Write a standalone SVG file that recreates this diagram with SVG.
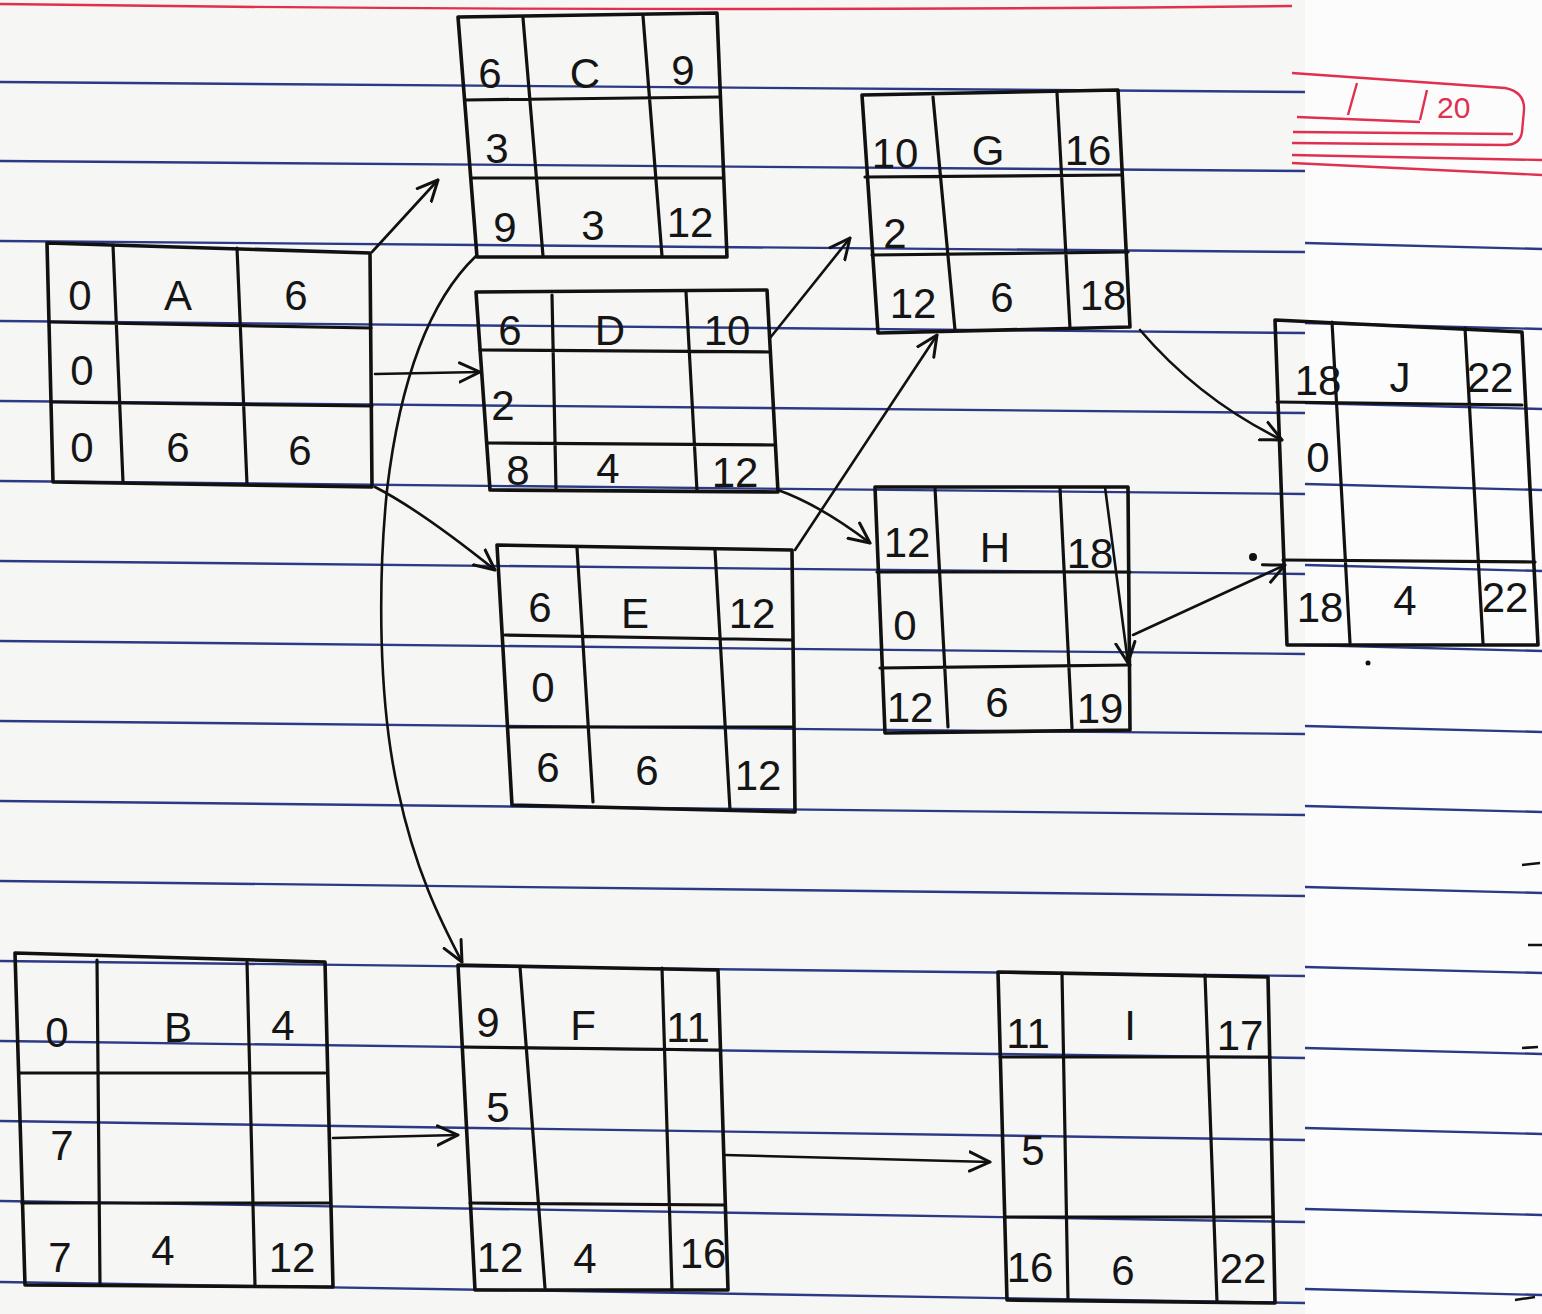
<svg xmlns="http://www.w3.org/2000/svg" width="1542" height="1314" viewBox="0 0 1542 1314">
<defs>
<marker id="ah" viewBox="0 0 20 20" refX="18" refY="10" markerWidth="24" markerHeight="24" markerUnits="userSpaceOnUse" orient="auto">
<path d="M1,2 L18,10 L1,18" fill="none" stroke="#111" stroke-width="2.5" stroke-linecap="round" stroke-linejoin="round"/>
</marker>
<style>
.rule{stroke:#2c3a86;stroke-width:2.4;fill:none}
.red{stroke:#e0304f;stroke-width:2.4;fill:none}
.box{fill:none;stroke:#111;stroke-width:3.6;stroke-linejoin:round;stroke-linecap:round}
.div{fill:none;stroke:#111;stroke-width:3.2;stroke-linecap:round}
.con{fill:none;stroke:#111;stroke-width:2.6;stroke-linecap:round;marker-end:url(#ah)}
text{font-family:"Liberation Sans","DejaVu Sans",sans-serif;font-size:42px;fill:#151515;text-anchor:middle}
.rt{fill:#e0304f;font-size:30px;text-anchor:start}
</style>
</defs>
<rect x="0" y="0" width="1305" height="1314" fill="#f6f6f4"/>
<rect x="1305" y="0" width="237" height="1314" fill="#fcfcfc"/>
<g id="paper">
<path class="red" d="M0,4 Q650,13 1292,6"/>
<path class="rule" d="M0,82 L1305,92 M0,161 L1305,171 M0,241 L1305,252 M0,321 L1305,333 M0,401 L1305,413 M0,481 L1305,494 M0,561 L1305,574 M0,641 L1305,654 M0,721 L1305,734 M0,801 L1305,815 M0,881 L1305,896 M0,961 L1305,976 M0,1041 L1305,1058 M0,1121 L1305,1140 M0,1201 L1305,1222 M0,1282 L1305,1303"/>
<path class="rule" d="M1305,243 L1542,249 M1305,323 L1542,329 M1305,403 L1542,409 M1305,484 L1542,490 M1305,565 L1542,571 M1305,645 L1542,651 M1305,726 L1542,732 M1305,806 L1542,812 M1305,887 L1542,893 M1305,967 L1542,973 M1305,1048 L1542,1054 M1305,1128 L1542,1134 M1305,1209 L1542,1215 M1305,1289 L1542,1295"/>
<path class="red" d="M1292,73 L1505,88 Q1525,92 1524,110 L1522,132 Q1520,145 1505,145 L1292,143"/>
<path class="red" d="M1297,117 L1420,122 M1293,132 L1513,134"/>
<path class="red" stroke-width="3" d="M1292,155 L1542,160 M1292,163 L1542,175"/>
<path class="red" d="M1357,83 L1348,115 M1427,90 L1420,120"/>
<text class="rt" x="1437" y="118">20</text>
<path d="M1522,865 L1540,863 M1528,945 L1542,945 M1522,1048 L1538,1047 M1515,1300 L1535,1297" stroke="#111" stroke-width="2.5"/>
<circle cx="1368" cy="663" r="2.5" fill="#111"/>
</g>
<g id="connectors">
<path class="con" d="M372,252 L438,180"/>
<path class="con" d="M375,374 L480,372"/>
<path class="con" d="M375,487 Q420,510 495,570"/>
<path class="con" d="M476,256 C430,300 400,380 387,490 C378,580 378,700 398,790 C415,870 440,920 462,962"/>
<path class="con" d="M770,338 L850,238"/>
<path class="con" d="M778,490 Q820,505 870,543"/>
<path class="con" d="M795,550 L937,335"/>
<path class="con" d="M1140,330 Q1200,400 1282,440"/>
<path class="con" d="M1133,635 L1285,565"/>
<circle cx="1253" cy="557" r="4" fill="#111"/>
<path class="con" d="M333,1138 L458,1135"/>
<path class="con" d="M725,1155 L990,1162"/>
<path class="con" d="M1105,487 L1128,663"/>
</g>
<g id="node-A">
<path class="box" d="M47,243 L370,253 L372,487 L53,482 Z"/>
<path class="div" d="M113,245 L123,482 M237,248 L247,484 M50,322 L371,328 M52,402 L372,406"/>
<text x="80" y="310">0</text><text x="178" y="310">A</text><text x="296" y="310">6</text>
<text x="82" y="385">0</text>
<text x="82" y="462">0</text><text x="178" y="462">6</text><text x="300" y="465">6</text>
</g>
<g id="node-C">
<path class="box" d="M458,17 L717,13 L727,257 L477,257 Z"/>
<path class="div" d="M523,18 L543,256 M643,16 L662,256 M465,100 L720,97 M472,178 L722,178"/>
<text x="490" y="88">6</text><text x="585" y="88">C</text><text x="683" y="85">9</text>
<text x="497" y="163">3</text>
<text x="505" y="242">9</text><text x="593" y="240">3</text><text x="690" y="237">12</text>
</g>
<g id="node-D">
<path class="box" d="M476,292 L767,290 L778,492 L490,490 Z"/>
<path class="div" d="M552,295 L556,490 M686,292 L697,491 M480,350 L770,352 M487,443 L775,445"/>
<text x="510" y="345">6</text><text x="610" y="345">D</text><text x="727" y="345">10</text>
<text x="503" y="420">2</text>
<text x="518" y="485">8</text><text x="608" y="483">4</text><text x="735" y="487">12</text>
</g>
<g id="node-E">
<path class="box" d="M497,545 L792,550 L795,812 L512,805 Z"/>
<path class="div" d="M577,548 L593,802 M715,550 L730,810 M505,635 L792,640 M510,727 L793,727"/>
<text x="540" y="622">6</text><text x="635" y="628">E</text><text x="752" y="628">12</text>
<text x="543" y="702">0</text>
<text x="548" y="782">6</text><text x="647" y="785">6</text><text x="758" y="790">12</text>
</g>
<g id="node-G">
<path class="box" d="M862,95 L1118,90 L1130,327 L878,333 Z"/>
<path class="div" d="M933,97 L955,330 M1057,93 L1070,328 M865,177 L1122,175 M872,255 L1128,252"/>
<text x="895" y="168">10</text><text x="988" y="165">G</text><text x="1088" y="165">16</text>
<text x="895" y="248">2</text>
<text x="913" y="318">12</text><text x="1002" y="312">6</text><text x="1103" y="310">18</text>
</g>
<g id="node-H">
<path class="box" d="M875,487 L1128,487 L1130,730 L885,733 Z"/>
<path class="div" d="M935,488 L948,727 M1060,488 L1072,728 M877,572 L1130,572 M880,668 L1130,665"/>
<text x="907" y="557">12</text><text x="995" y="562">H</text><text x="1090" y="568">18</text>
<text x="905" y="640">0</text>
<text x="910" y="722">12</text><text x="997" y="717">6</text><text x="1100" y="723">19</text>
</g>
<g id="node-J">
<path class="box" d="M1275,320 L1522,332 L1538,645 L1287,645 Z"/>
<path class="div" d="M1332,322 L1350,643 M1465,328 L1483,643 M1277,402 L1522,405 M1283,560 L1535,562"/>
<text x="1318" y="395">18</text><text x="1400" y="392">J</text><text x="1490" y="392">22</text>
<text x="1318" y="472">0</text>
<text x="1320" y="622">18</text><text x="1405" y="615">4</text><text x="1505" y="612">22</text>
</g>
<g id="node-B">
<path class="box" d="M15,953 L325,962 L333,1287 L25,1285 Z"/>
<path class="div" d="M97,960 L100,1285 M247,962 L255,1286 M20,1073 L325,1073 M22,1203 L330,1203"/>
<text x="57" y="1047">0</text><text x="178" y="1042">B</text><text x="283" y="1040">4</text>
<text x="62" y="1160">7</text>
<text x="60" y="1272">7</text><text x="163" y="1265">4</text><text x="292" y="1272">12</text>
</g>
<g id="node-F">
<path class="box" d="M458,965 L718,970 L728,1290 L475,1290 Z"/>
<path class="div" d="M520,967 L545,1288 M662,968 L672,1290 M463,1047 L720,1050 M470,1203 L725,1205"/>
<text x="488" y="1037">9</text><text x="583" y="1040">F</text><text x="688" y="1042">11</text>
<text x="498" y="1122">5</text>
<text x="500" y="1272">12</text><text x="585" y="1273">4</text><text x="703" y="1268">16</text>
</g>
<g id="node-I">
<path class="box" d="M998,972 L1268,977 L1275,1303 L1007,1300 Z"/>
<path class="div" d="M1062,973 L1068,1300 M1205,975 L1217,1302 M1000,1057 L1270,1057 M1005,1217 L1272,1217"/>
<text x="1028" y="1048">11</text><text x="1130" y="1040">I</text><text x="1240" y="1050">17</text>
<text x="1033" y="1165">5</text>
<text x="1030" y="1282">16</text><text x="1123" y="1285">6</text><text x="1243" y="1283">22</text>
</g>
</svg>
